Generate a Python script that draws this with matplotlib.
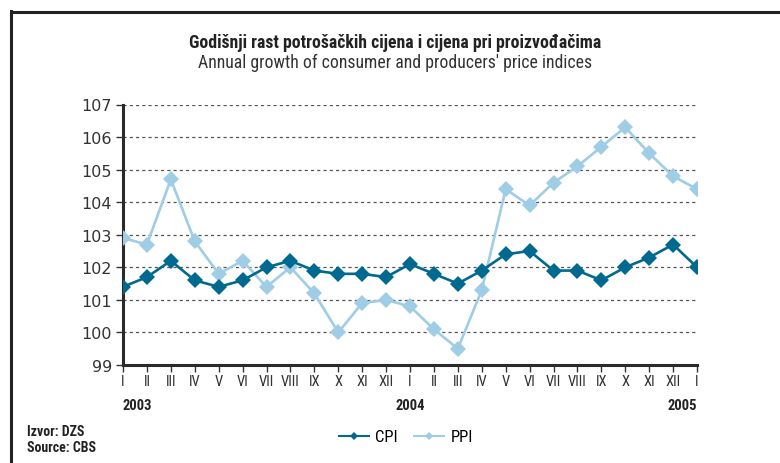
#!/usr/bin/env python3
"""
Annual growth of consumer and producers' price indices (CPI / PPI), 2003-2005
"""

import matplotlib
matplotlib.use('Agg')
import matplotlib.pyplot as plt
from matplotlib.lines import Line2D
from matplotlib import font_manager

# Data
month_labels = ['I', 'II', 'III', 'IV', 'V', 'VI', 'VII', 'VIII', 'IX', 'X', 'XI', 'XII',
                'I', 'II', 'III', 'IV', 'V', 'VI', 'VII', 'VIII', 'IX', 'X', 'XI', 'XII', 'I']
year_labels = ['2003', '2004', '2005']
year_positions = [0, 12, 24]

cpi = [101.4, 101.7, 102.2, 101.6, 101.4, 101.6, 102.0, 102.2, 101.9, 101.8, 101.8, 101.7,
       102.1, 101.8, 101.5, 101.9, 102.4, 102.5, 101.9, 101.9, 101.6, 102.0, 102.3, 102.7,
       102.0]
ppi = [102.9, 102.7, 104.7, 102.8, 101.8, 102.2, 101.4, 102.0, 101.2, 100.0, 100.9, 101.0,
       100.8, 100.1, 99.5, 101.3, 104.4, 103.9, 104.6, 105.1, 105.7, 106.3, 105.5, 104.8,
       104.4]

CPI_COLOR = '#00698f'
PPI_COLOR = '#9ecde5'

# pick a narrow family if one is installed
names = {f.name for f in font_manager.fontManager.ttflist}
narrow = [n for n in ['Liberation Sans Narrow', 'Roboto Condensed', 'Open Sans Condensed',
                      'DejaVu Sans Condensed'] if n in names]
NARROW = narrow + ['DejaVu Sans']
STRETCH = 'normal' if narrow else 'condensed'

fig = plt.figure(figsize=(7.8, 4.64), dpi=100)
fig.patch.set_facecolor('white')

# Frame around the whole chart (right and bottom edges fall outside the picture)
fig.add_artist(Line2D([11 / 780, 11 / 780], [1 - 12 / 464, -0.05],
                      transform=fig.transFigure, color='#222222', linewidth=2.2,
                      solid_capstyle='projecting'))
fig.add_artist(Line2D([11 / 780, 1.05], [1 - 13 / 464, 1 - 13 / 464],
                      transform=fig.transFigure, color='#222222', linewidth=2.2,
                      solid_capstyle='projecting'))

ax = fig.add_axes([123 / 780, 98 / 464, 574 / 780, 260.5 / 464])

x = list(range(len(month_labels)))
ax.plot(x, ppi, color=PPI_COLOR, linewidth=1.9, marker='D', markersize=7.8,
        markeredgewidth=0, label='PPI', zorder=3)
ax.plot(x, cpi, color=CPI_COLOR, linewidth=1.9, marker='D', markersize=7.8,
        markeredgewidth=0, label='CPI', zorder=4)

ax.set_xlim(0, 24)
ax.set_ylim(99, 107)
ax.set_yticks(range(99, 108))
ax.set_yticklabels([str(v) for v in range(99, 108)], fontsize=11.5, color='#333333')
ax.yaxis.grid(True, linestyle=(0, (2.5, 2.5)), color='#555555', linewidth=0.9)
ax.set_axisbelow(True)

for side in ['top', 'right']:
    ax.spines[side].set_visible(False)
for side in ['left', 'bottom']:
    ax.spines[side].set_linewidth(2.2)
    ax.spines[side].set_color('#2a2a2a')

ax.set_xticks(x)
ax.set_xticklabels([])
ax.tick_params(axis='x', direction='out', length=5, width=1, color='#333333')
ax.tick_params(axis='y', direction='out', length=5, width=1, color='#333333', pad=3)

# Month labels and years under the axis
for xi, lab in zip(x, month_labels):
    ax.text(xi, -0.062, lab, transform=ax.get_xaxis_transform(), ha='center', va='center',
            fontsize=10.5, family=NARROW, fontstretch=STRETCH, color='#333333')
for xp, yr in zip(year_positions, year_labels):
    ax.text(xp + (0.6 if xp == 0 else (-0.6 if xp == 24 else 0)), -0.155, yr,
            transform=ax.get_xaxis_transform(), ha='center', va='center',
            fontsize=10.5, fontweight='bold', family=NARROW, fontstretch=STRETCH,
            color='#222222')

# Titles
fig.text(0.507, 1 - 43 / 464, 'Godišnji rast potrošačkih cijena i cijena pri proizvođačima',
         ha='center', va='center', fontsize=12.8, fontweight='bold', family=NARROW,
         fontstretch=STRETCH, color='#222222')
fig.text(0.507, 1 - 63 / 464, "Annual growth of consumer and producers' price indices",
         ha='center', va='center', fontsize=12.8, family=NARROW, fontstretch=STRETCH,
         color='#333333')

# Source
fig.text(27 / 780, 1 - 432 / 464, 'Izvor: DZS', ha='left', va='center', fontsize=10,
         fontweight='bold', family=NARROW, fontstretch=STRETCH, color='#222222')
fig.text(27 / 780, 1 - 448 / 464, 'Source: CBS', ha='left', va='center', fontsize=10,
         fontweight='bold', family=NARROW, fontstretch=STRETCH, color='#222222')

# Legend
handles = [Line2D([], [], color=CPI_COLOR, marker='D', markersize=4.5, linewidth=1.5,
                  markeredgewidth=0),
           Line2D([], [], color=PPI_COLOR, marker='D', markersize=4.5, linewidth=1.5,
                  markeredgewidth=0)]
fig.legend(handles, ['CPI', 'PPI'], loc='center', bbox_to_anchor=(406 / 780, 1 - 438 / 464),
           ncol=2, frameon=False, handlelength=1.8, handletextpad=0.4,
           columnspacing=1.0, prop={'family': NARROW, 'size': 12, 'stretch': STRETCH})

fig.savefig('out.png', dpi=100, facecolor='white')
